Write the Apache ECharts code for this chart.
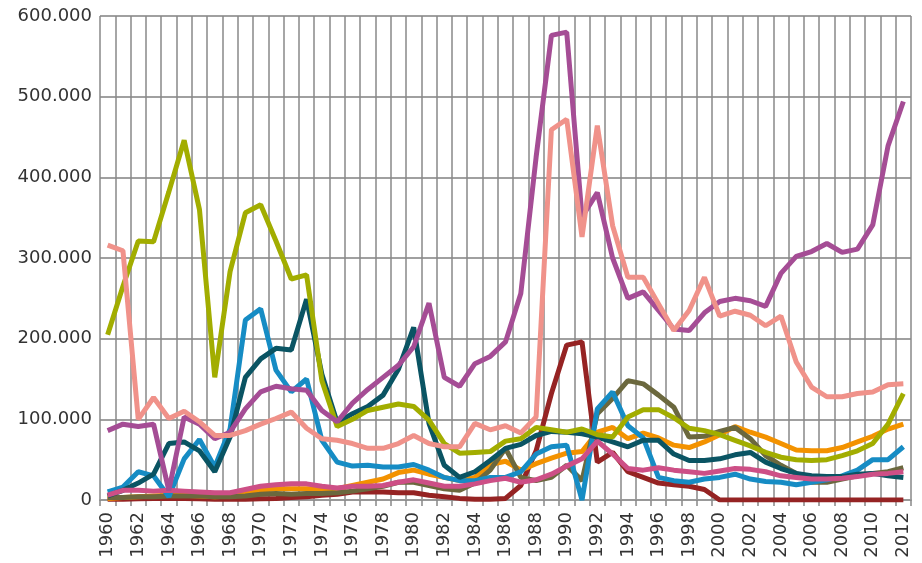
<!DOCTYPE html>
<html>
<head>
<meta charset="utf-8">
<script src="https://cdn.jsdelivr.net/npm/echarts@6/dist/echarts.min.js"></script>
<style>html,body{margin:0;padding:0;background:#fff}.c{width:922px;height:563px}</style>
</head>
<body>
<div id="a" class="c"></div>
<script>
// values in thousands
const years=[];for(let y=1960;y<=2012;y++)years.push(String(y));

const yellowGreen = [205,265,321,320,382,446,360,152,283,356,366,321,274,279,148,91,100,111,115,119,116,99,70,58,59,60,73,76,90,87,84,88,81,78,103,112,112,102,89,86,81,74,67,59,53,50,49,50,55,61,70,94,132];
const salmon = [316,309,100,127,101,110,97,80,80,86,94,101,109,89,76,74,70,64,64,70,80,70,66,66,95,87,92,83,103,459,472,326,464,340,276,276,243,210,235,276,228,234,229,216,228,171,140,128,128,132,134,143,144];
const purple = [86,94,91,94,12,103,94,76,84,113,134,141,138,136,111,97,120,137,152,167,190,244,152,141,169,178,196,256,425,576,580,351,381,300,250,258,235,212,210,232,246,250,247,240,281,302,308,318,307,311,341,439,494];
const darkTeal = [5,12,21,32,70,72,61,35,78,152,175,188,186,249,156,96,107,116,130,162,214,95,43,28,35,49,64,69,80,85,84,82,78,72,66,74,74,57,49,49,51,56,59,47,39,33,30,29,29,32,33,30,28];
const blue = [10,16,35,30,4,51,75,41,88,223,237,161,134,150,74,47,42,43,41,41,44,37,28,24,24,28,28,35,57,66,68,0,113,134,92,77,28,24,22,26,28,32,26,23,22,19,22,25,30,37,50,50,66];
const darkRed = [1,1,1.5,2,2,2,1.5,1,1,1,1.5,2,3,4,6,7,10,10,10,9,9,6,4,2,1,1,2,18,61,132,192,196,47,59,35,28,21,19,17,13,0,0,0,0,0,0,0,0,0,0,0,0,0];
const orange = [2,3,4,5,6,6,5,4,5,9,12,14,14,14,14,14,18,22,26,34,37,32,28,24,28,44,48,37,45,52,58,60,84,90,76,83,77,68,65,72,81,91,84,78,70,62,61,61,65,72,79,88,94];
const olive = [3,3,4,4,5,5,5,4,4,5,7,8,7,8,8,9,11,14,17,22,22,18,14,12,21,37,64,28,24,28,43,24,107,126,148,144,130,115,78,79,85,90,76,55,43,33,22,22,26,30,33,35,40];
const magentaPink = [6,12,12,11,12,11,10,9,9,13,17,19,20,20,17,15,17,17,18,22,25,21,17,17,20,24,27,22,25,32,42,51,73,57,39,37,40,37,35,33,36,39,38,35,30,28,26,26,27,29,32,33,35];

const yTicks = [0,100,200,300,400,500,600];

const seriesDefs = [
  ['darkRed', darkRed, '#952323'],
  ['orange', orange, '#f39200'],
  ['olive', olive, '#6b683e'],
  ['blue', blue, '#168cc4'],
  ['darkTeal', darkTeal, '#0a5463'],
  ['yellowGreen', yellowGreen, '#a2ad00'],
  ['magentaPink', magentaPink, '#cd4f86'],
  ['purple', purple, '#a54d95'],
  ['salmon', salmon, '#f0928a']
];

function xa(){return {
    type: 'category', data: years, boundaryGap: true,
    axisLine: {show: true, lineStyle: {color: '#999', width: 2}},
    axisTick: {show: true, interval: 0, length: 6, lineStyle: {color: '#888', width: 1.5}},
    axisLabel: {interval: 1, rotate: 90, margin: 12, fontSize: 18, fontFamily: 'DejaVu Sans', color: '#333'},
    splitLine: {show: true, interval: 0, lineStyle: {color: '#888', width: 1.5}}
  };}
function ya(){return {
    type: 'value', min: yTicks[0], max: yTicks[yTicks.length-1], interval: 100,
    axisLabel: {fontSize: 18, fontFamily: 'DejaVu Sans', color: '#333',
      formatter: function (v) { return v === 0 ? '0' : v + '.000'; }},
    splitLine: {show: true, lineStyle: {color: '#a0a0a0', width: 2}}
  };}
const series = seriesDefs.map(function (d) {
  return {type: 'line', name: d[0], data: d[1], showSymbol: false, symbol: 'none',
    lineStyle: {color: d[2], width: 5}, itemStyle: {color: d[2]}};
});
const ch = echarts.init(document.getElementById('a'));
ch.setOption({animation: false,
  grid: {left: 100, right: 11, top: 16, bottom: 63},
  title: {text: '', left: 300, top: 0},
  xAxis: xa(), yAxis: ya(), series: series});
</script>
</body>
</html>
